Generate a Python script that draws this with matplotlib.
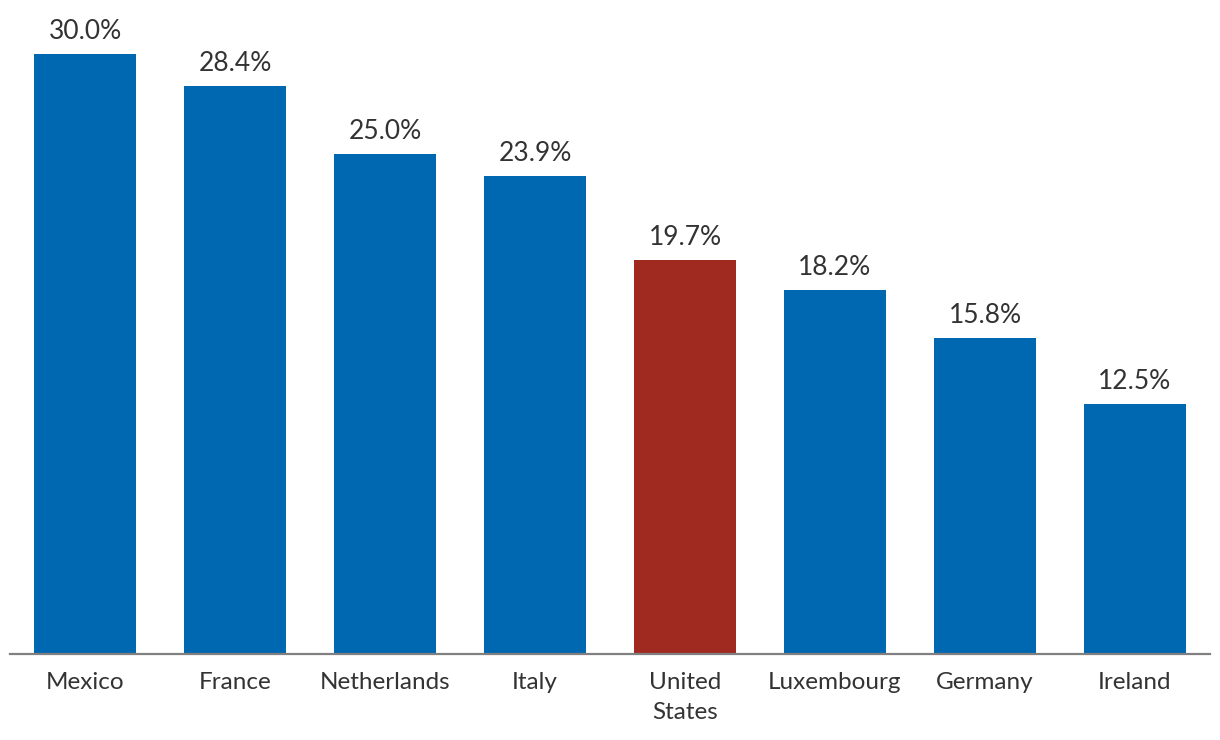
import matplotlib.pyplot as plt

paises = ["Mexico", "France", "Netherlands", "Italy", "United\nStates",
          "Luxembourg", "Germany", "Ireland"]
valores = [30.0, 28.4, 25.0, 23.9, 19.7, 18.2, 15.8, 12.5]
destaque = "United\nStates"

azul = "#0067b1"
vermelho = "#a12a20"
cor_texto = "#333333"

plt.rcParams['font.family'] = ['Lato', 'DejaVu Sans']

fig = plt.figure(figsize=(12.2, 7.4), dpi=100)
ax = fig.add_axes([10 / 1220, 86 / 740, 1200 / 1220, 654 / 740])

cores = [vermelho if p == destaque else azul for p in paises]
x = list(range(len(paises)))
barras = ax.bar(x, valores, width=0.68, color=cores, zorder=2)

# rótulos de valor acima das barras
for b, v in zip(barras, valores):
    ax.annotate(f"{v:.1f}%", (b.get_x() + b.get_width() / 2, v),
                xytext=(0, 7), textcoords="offset points",
                ha="center", va="bottom", fontsize=19, color=cor_texto)

ax.set_xlim(-0.5, len(paises) - 0.5)
ax.set_ylim(0, 32.7)
ax.set_xticks(x)
ax.set_xticklabels(paises, fontsize=17.5, color=cor_texto, linespacing=1.55)
ax.tick_params(axis="x", length=0, pad=13)
ax.set_yticks([])

for lado in ["top", "right", "left"]:
    ax.spines[lado].set_visible(False)
ax.spines["bottom"].set_color("#808080")
ax.spines["bottom"].set_linewidth(1.6)
ax.spines["bottom"].set_zorder(3)

fig.savefig("out.png", dpi=100)
